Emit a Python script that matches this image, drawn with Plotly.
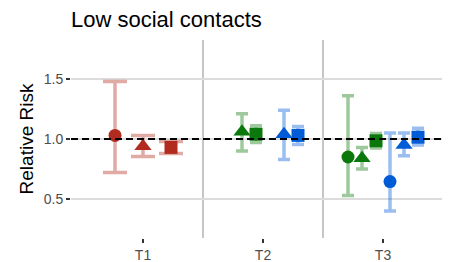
import plotly.graph_objects as go

# ---- data ----
categories = ["T1", "T2", "T3"]
shapes = ["circle", "triangle-up", "square"]

# estimates / lower / upper for each shape (circle, triangle, square)
t1_red_est = [1.03, 0.94, 0.93]
t1_red_lo = [0.72, 0.855, 0.88]
t1_red_hi = [1.48, 1.03, 0.98]

t2_green_est = [None, 1.06, 1.04]
t2_green_lo = [None, 0.90, 0.97]
t2_green_hi = [None, 1.21, 1.11]

t2_blue_est = [None, 1.04, 1.03]
t2_blue_lo = [None, 0.83, 0.955]
t2_blue_hi = [None, 1.24, 1.105]

t3_green_est = [0.85, 0.84, 0.985]
t3_green_lo = [0.53, 0.75, 0.925]
t3_green_hi = [1.36, 0.93, 1.045]

t3_blue_est = [0.645, 0.95, 1.015]
t3_blue_lo = [0.40, 0.86, 0.95]
t3_blue_hi = [1.05, 1.05, 1.09]

y_ticks = [0.5, 1.0, 1.5]
y_tick_labels = ["0.5", "1.0", "1.5"]
reference_value = 1.0
separators = [1.5, 2.5]

# ---- styles ----
RED, RED_L = "#B22B1F", "rgba(178,43,31,0.4)"
GRN, GRN_L = "#0A780A", "rgba(10,120,10,0.4)"
BLU, BLU_L = "#005CD6", "rgba(0,92,214,0.4)"
SIZES = {"circle": 13, "triangle-up": 15, "square": 13}

# (category index, est, lo, hi, colour, light colour, dodge slots, slot start, cap half width)
groups = [
    (1, t1_red_est, t1_red_lo, t1_red_hi, RED, RED_L, 3, 0, 12),
    (2, t2_green_est, t2_green_lo, t2_green_hi, GRN, GRN_L, 6, 0, 6),
    (2, t2_blue_est, t2_blue_lo, t2_blue_hi, BLU, BLU_L, 6, 3, 6),
    (3, t3_green_est, t3_green_lo, t3_green_hi, GRN, GRN_L, 6, 0, 6),
    (3, t3_blue_est, t3_blue_lo, t3_blue_hi, BLU, BLU_L, 6, 3, 6),
]

DODGE = 0.7
fig = go.Figure()
marker_traces = []
for cat, est, lo, hi, col, lcol, nslots, start, capw in groups:
    for i, shp in enumerate(shapes):
        if est[i] is None:
            continue
        slot = start + i
        x = cat - DODGE / 2 + DODGE / nslots * (slot + 0.5)
        fig.add_trace(go.Scatter(
            x=[x], y=[est[i]], mode="markers",
            marker=dict(size=SIZES[shp], symbol=shp, color="rgba(0,0,0,0)"),
            error_y=dict(type="data", symmetric=False,
                         array=[hi[i] - est[i]], arrayminus=[est[i] - lo[i]],
                         color=lcol, thickness=3.5, width=capw),
            showlegend=False, hoverinfo="skip"))
        marker_traces.append(go.Scatter(
            x=[x], y=[est[i]], mode="markers",
            marker=dict(size=SIZES[shp], symbol=shp, color=col, line=dict(width=0)),
            showlegend=False))
for t in marker_traces:
    fig.add_trace(t)

# separators between categories
for s in separators:
    fig.add_shape(type="line", x0=s, x1=s, y0=0, y1=1, xref="x", yref="paper",
                  line=dict(color="#C6C6C6", width=2), layer="below")
# reference dashed line
fig.add_shape(type="line", x0=0, x1=1, xref="paper", y0=reference_value, y1=reference_value,
              yref="y", line=dict(color="black", width=2, dash="7px,4px"), layer="above")

fig.update_layout(
    width=450, height=262,
    margin=dict(l=63, r=3, t=32, b=32),
    paper_bgcolor="white", plot_bgcolor="white",
    font=dict(family="Liberation Sans, Arial, sans-serif"),
    title=dict(text="Low social contacts", x=63 / 450, xanchor="left",
               y=1 - 11 / 262, yanchor="middle",
               font=dict(size=22, color="black")),
    xaxis=dict(range=[0.4, 3.6], tickmode="array", tickvals=[1, 2, 3],
               ticktext=categories, showgrid=False, zeroline=False,
               ticks="outside", ticklen=4, tickwidth=1.5, tickcolor="#333333",
               tickfont=dict(size=14, color="#4D4D4D"), showline=False),
    yaxis=dict(range=[0.175, 1.825], tickmode="array", tickvals=y_ticks,
               ticktext=y_tick_labels, showgrid=True, gridcolor="#DCDCDC",
               gridwidth=1.5, zeroline=False,
               ticks="outside", ticklen=4, tickwidth=1.5, tickcolor="#333333",
               tickfont=dict(size=14, color="#4D4D4D"),
               title=dict(text="Relative Risk", font=dict(size=19, color="black"),
                          standoff=5)),
)

fig.write_html("out.html")
